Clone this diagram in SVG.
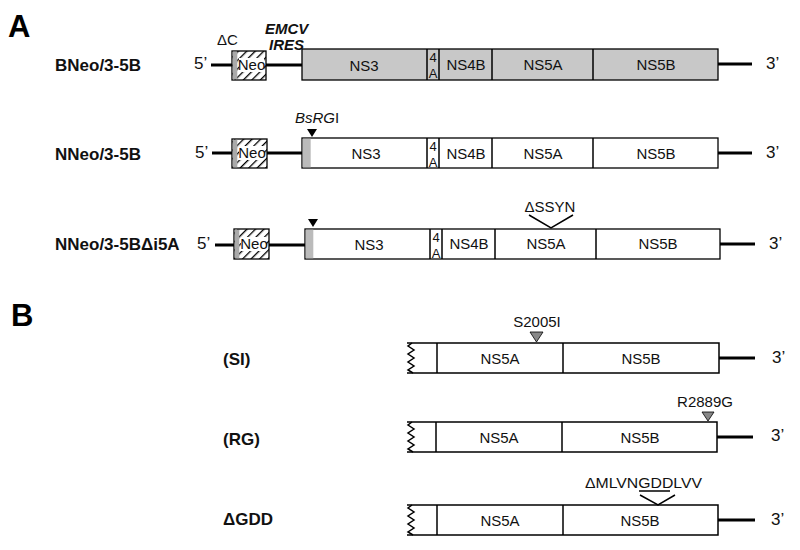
<svg xmlns="http://www.w3.org/2000/svg" width="800" height="550" viewBox="0 0 800 550">
<defs>
<pattern id="hatch" patternUnits="userSpaceOnUse" width="6" height="6" patternTransform="rotate(45)">
<rect width="6" height="6" fill="#fff"/>
<line x1="0" y1="0" x2="0" y2="6" stroke="#000" stroke-width="2.6"/>
</pattern>
<style>
.box{stroke:#000;stroke-width:1.3}
.g{fill:#c8c8c8}
.w{fill:#fff}
.ln{stroke:#000;stroke-width:3;fill:none}
.thin{stroke:#000;stroke-width:1.5;fill:none}
.t{font-family:"Liberation Sans",Arial,sans-serif;font-size:15px;fill:#111}
.tc{text-anchor:middle}
.b{font-weight:bold}
.lab{font-size:17px;font-weight:bold}
.end{font-size:17px}
.s{font-size:13px}
.big{font-family:"Liberation Sans",Arial,sans-serif;font-weight:bold;font-size:31px}
</style>
</defs>
<rect width="800" height="550" fill="#fff"/>

<text class="big" x="8" y="37">A</text>
<text class="big" x="11" y="326">B</text>

<!-- Row 1 -->
<g id="bneo">
<text class="t lab" x="55" y="71">BNeo/3-5B</text>
<text class="t end" x="194" y="69">5’</text>
<line class="ln" x1="211" y1="65" x2="232" y2="65"/>
<rect class="box" x="232" y="51" width="34" height="29" fill="url(#hatch)"/>
<rect x="232.7" y="51.7" width="4.6" height="27.6" fill="#aaa"/>
<rect x="239" y="58" width="25" height="14" fill="#fff"/>
<text class="t" x="251.5" y="70" text-anchor="middle" font-size="14">Neo</text>
<text class="t" x="217" y="45">ΔC</text>
<text class="t b" x="265" y="34" font-style="italic" font-size="13.5">EMCV</text>
<text class="t b" x="269" y="50" font-style="italic" font-size="13.5">IRES</text>
<line class="ln" x1="266" y1="65" x2="302" y2="65"/>
<rect class="box g" x="302" y="49" width="416" height="31"/>
<line class="thin" x1="427" y1="49" x2="427" y2="80" stroke-width="1.2"/>
<line class="thin" x1="439" y1="49" x2="439" y2="80" stroke-width="1.2"/>
<line class="thin" x1="492" y1="49" x2="492" y2="80" stroke-width="1.2"/>
<line class="thin" x1="593" y1="49" x2="593" y2="80" stroke-width="1.2"/>
<text class="t tc" x="364" y="71">NS3</text>
<text class="t tc s" x="433" y="62">4</text>
<text class="t tc s" x="433" y="78">A</text>
<text class="t tc" x="466" y="70">NS4B</text>
<text class="t tc" x="543" y="70">NS5A</text>
<text class="t tc" x="656" y="70">NS5B</text>
<line class="ln" x1="718" y1="64" x2="752" y2="64"/>
<text class="t end" x="766" y="69">3’</text>
</g>

<!-- Row 2 -->
<g id="nneo">
<text class="t lab" x="55" y="160">NNeo/3-5B</text>
<text class="t end" x="195" y="158">5’</text>
<line class="ln" x1="212" y1="153" x2="232" y2="153"/>
<rect class="box" x="232" y="139" width="35" height="29" fill="url(#hatch)"/>
<rect x="232.7" y="139.7" width="4.6" height="27.6" fill="#aaa"/>
<rect x="239" y="146" width="25" height="14" fill="#fff"/>
<text class="t" x="252" y="158" text-anchor="middle" font-size="14">Neo</text>
<line class="ln" x1="267" y1="153" x2="302" y2="153"/>
<rect class="box w" x="302" y="138" width="416" height="30"/>
<rect x="302.7" y="138.7" width="8" height="28.6" fill="#bbb"/>
<polygon points="307,129 317,129 312,137" fill="#000"/>
<text class="t" x="295" y="123"><tspan font-style="italic">BsRG</tspan>I</text>
<line class="thin" x1="427" y1="138" x2="427" y2="168" stroke-width="1.2"/>
<line class="thin" x1="439" y1="138" x2="439" y2="168" stroke-width="1.2"/>
<line class="thin" x1="492" y1="138" x2="492" y2="168" stroke-width="1.2"/>
<line class="thin" x1="593" y1="138" x2="593" y2="168" stroke-width="1.2"/>
<text class="t tc" x="366" y="159">NS3</text>
<text class="t tc s" x="433" y="151">4</text>
<text class="t tc s" x="433" y="167">A</text>
<text class="t tc" x="466" y="159">NS4B</text>
<text class="t tc" x="543" y="159">NS5A</text>
<text class="t tc" x="656" y="159">NS5B</text>
<line class="ln" x1="718" y1="153" x2="752" y2="153"/>
<text class="t end" x="766" y="158">3’</text>
</g>

<!-- Row 3 -->
<g id="nneo-di5a">
<text class="t lab" x="55" y="250">NNeo/3-5BΔi5A</text>
<text class="t end" x="197" y="249">5’</text>
<line class="ln" x1="215" y1="245" x2="234" y2="245"/>
<rect class="box" x="234" y="229" width="35" height="30" fill="url(#hatch)"/>
<rect x="234.7" y="229.7" width="4.6" height="28.6" fill="#aaa"/>
<rect x="241" y="237" width="25" height="14" fill="#fff"/>
<text class="t" x="254" y="249" text-anchor="middle" font-size="14">Neo</text>
<line class="ln" x1="269" y1="245" x2="305" y2="245"/>
<rect class="box w" x="305" y="229" width="415" height="30"/>
<rect x="305.7" y="229.7" width="7.6" height="28.6" fill="#bbb"/>
<polygon points="308,219 318,219 313,227" fill="#000"/>
<line class="thin" x1="430" y1="229" x2="430" y2="259" stroke-width="1.2"/>
<line class="thin" x1="442" y1="229" x2="442" y2="259" stroke-width="1.2"/>
<line class="thin" x1="495" y1="229" x2="495" y2="259" stroke-width="1.2"/>
<line class="thin" x1="596" y1="229" x2="596" y2="259" stroke-width="1.2"/>
<text class="t tc" x="369" y="250">NS3</text>
<text class="t tc s" x="436" y="242">4</text>
<text class="t tc s" x="436" y="258">A</text>
<text class="t tc" x="469" y="249">NS4B</text>
<text class="t tc" x="546" y="249">NS5A</text>
<text class="t tc" x="658" y="249">NS5B</text>
<polyline class="thin" points="529,215 551,228 573,215"/>
<text class="t tc" x="550" y="212">ΔSSYN</text>
<line class="ln" x1="720" y1="244" x2="755" y2="244"/>
<text class="t end" x="769" y="249">3’</text>
</g>

<!-- B rows -->
<g id="si">
<text class="t lab" x="223" y="365">(SI)</text>
<polyline class="thin" stroke-width="1.2" points="407,343 719,343 719,373 407,373"/>
<polyline class="thin" stroke-width="1.2" points="412,343 408,346 414,350 408,354 414,358 408,362 414,366 408,370 413,373"/>
<line class="thin" stroke-width="1.2" x1="437" y1="343" x2="437" y2="373"/>
<line class="thin" stroke-width="1.2" x1="563" y1="343" x2="563" y2="373"/>
<text class="t tc" x="500" y="364">NS5A</text>
<text class="t tc" x="641" y="364">NS5B</text>
<polygon points="530,332 543,332 536.5,342" fill="#888" stroke="#000" stroke-width="0.8"/>
<text class="t tc" x="537" y="327">S2005I</text>
<line class="ln" x1="719" y1="358" x2="755" y2="358"/>
<text class="t end" x="772" y="363">3’</text>
</g>

<g id="rg">
<text class="t lab" x="223" y="445">(RG)</text>
<polyline class="thin" stroke-width="1.2" points="407,422 717,422 717,452 407,452"/>
<polyline class="thin" stroke-width="1.2" points="412,422 408,425 414,429 408,433 414,437 408,441 414,445 408,449 413,452"/>
<line class="thin" stroke-width="1.2" x1="436" y1="422" x2="436" y2="452"/>
<line class="thin" stroke-width="1.2" x1="562" y1="422" x2="562" y2="452"/>
<text class="t tc" x="499" y="443">NS5A</text>
<text class="t tc" x="640" y="443">NS5B</text>
<polygon points="702,412 714,412 708,421" fill="#888" stroke="#000" stroke-width="0.8"/>
<text class="t tc" x="705" y="407">R2889G</text>
<line class="ln" x1="717" y1="437" x2="753" y2="437"/>
<text class="t end" x="771" y="441">3’</text>
</g>

<g id="gdd">
<text class="t lab" x="223" y="525">ΔGDD</text>
<polyline class="thin" stroke-width="1.2" points="407,505 718,505 718,535 407,535"/>
<polyline class="thin" stroke-width="1.2" points="412,505 408,508 414,512 408,516 414,520 408,524 414,528 408,532 413,535"/>
<line class="thin" stroke-width="1.2" x1="437" y1="505" x2="437" y2="535"/>
<line class="thin" stroke-width="1.2" x1="563" y1="505" x2="563" y2="535"/>
<text class="t tc" x="500" y="526">NS5A</text>
<text class="t tc" x="640" y="526">NS5B</text>
<text class="t" x="585" y="488" textLength="117" lengthAdjust="spacingAndGlyphs">ΔMLVNGDDLVV</text>
<line class="thin" stroke-width="1" x1="639" y1="491" x2="670" y2="491"/>
<polyline class="thin" points="640,495 658,505 675,495"/>
<line class="ln" x1="718" y1="520" x2="755" y2="520"/>
<text class="t end" x="771" y="525">3’</text>
</g>
</svg>
